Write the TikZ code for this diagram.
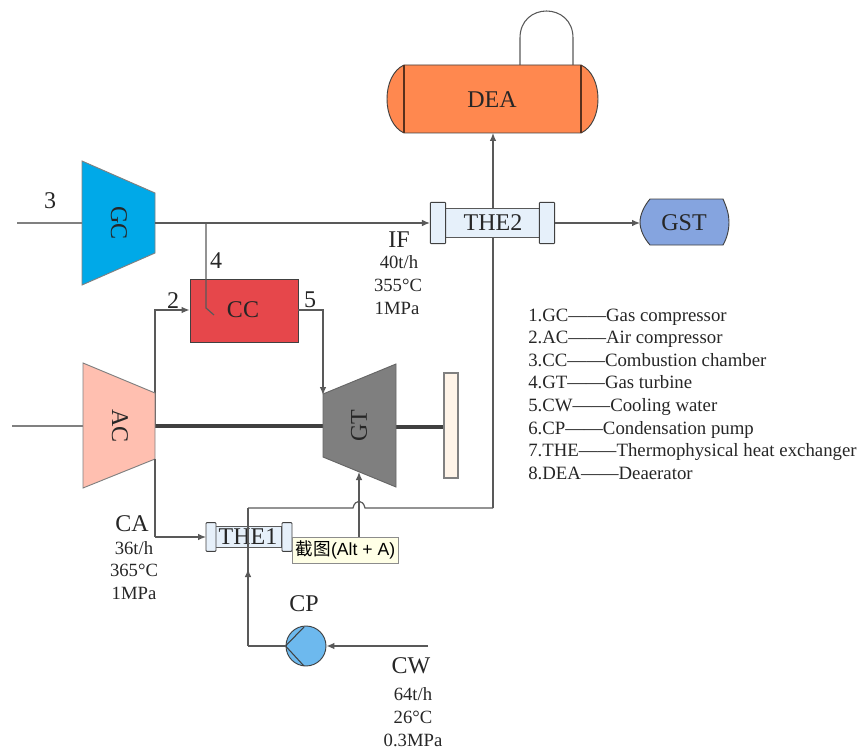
\documentclass[tikz,border=0pt]{standalone}
\usepackage{fontspec}
\setmainfont{Liberation Serif}
\newfontfamily\cjkfont{Noto Sans CJK SC}
\newfontfamily\tipfont{Liberation Sans}
\usetikzlibrary{arrows.meta}
\definecolor{linec}{HTML}{595959}
\definecolor{edgec}{HTML}{404040}
\definecolor{gcc}{HTML}{00A9E8}
\definecolor{acc}{HTML}{FFBFB0}
\definecolor{gtc}{HTML}{7F7F7F}
\definecolor{ccc}{HTML}{E6474B}
\definecolor{deac}{HTML}{FF884F}
\definecolor{gstc}{HTML}{85A4DF}
\definecolor{thec}{HTML}{E6F0FA}
\definecolor{barc}{HTML}{FFF4E8}
\definecolor{pumpc}{HTML}{6DB9EE}
\definecolor{tipc}{HTML}{FFFFE6}
\definecolor{textc}{HTML}{262626}
\tikzset{
  x=0.75pt,y=-0.75pt,
  flow/.style={draw=linec,line width=0.9pt},
  flowa/.style={flow,-{Latex[length=6pt,width=5pt]}},
  shaft/.style={draw=edgec,line width=2.7pt},
  part/.style={draw=edgec,line width=0.7pt},
  capbox/.style={part,fill=thec,rounded corners=0.6pt,inner sep=0pt,minimum width=11.5pt,minimum height=31pt},
  bodybox/.style={draw=linec,line width=1.2pt,fill=thec,inner sep=0pt,minimum height=22pt},
  big/.style={font=\fontsize{18}{20}\selectfont,text=textc,inner sep=0pt},
  lab/.style={font=\fontsize{18}{20}\selectfont,text=textc,inner sep=0pt},
  data/.style={font=\fontsize{14}{16}\selectfont,text=textc,inner sep=0pt},
  legend/.style={font=\fontsize{14.1}{16}\selectfont,text=textc,inner sep=0pt,anchor=base west},
}
\begin{document}
\begin{tikzpicture}
\useasboundingbox (0,0) rectangle (861,749);
% named points
\coordinate (gcin) at (17,223);
\coordinate (gcout) at (155,223);
\coordinate (branch) at (206,223);
\coordinate (branchend) at (206,308);
\coordinate (branchtip) at (214,315);
\coordinate (acin) at (12,426);
\coordinate (acout) at (155,426);
\coordinate (actop) at (155,310);
\coordinate (acbot) at (155,537);
\coordinate (gtin) at (323,426);
\coordinate (gtout) at (396,427);
\coordinate (gttop) at (323,395);
\coordinate (ccturn) at (323,310);
\coordinate (gtbot) at (359,472);
\coordinate (cwin) at (428,646);
\coordinate (cpturn) at (248,646);
\coordinate (upL) at (248,508);
\coordinate (upR) at (493,508);
\coordinate (hopa) at (353,508);
\coordinate (hopb) at (365,508);

% loop above deaerator
\draw[draw=linec,line width=0.8pt] (520,65) -- (520,38) .. controls (520,2) and (573,2) .. (573,38) -- (573,65);

% long pipe behind the exchangers
\draw[flow] (upL) -- (hopa) .. controls (355,499) and (363,499) .. (hopb) -- (upR);
\draw[flowa] (upR) -- (493,133);
\draw[flowa] (359,538) -- (gtbot);

% deaerator
\draw[part,fill=deac] (404,65) -- (581,65) .. controls (592,70) and (598,84) .. (598,99) .. controls (598,114) and (592,128) .. (581,133) -- (404,133) .. controls (393,128) and (387,114) .. (387,99) .. controls (387,84) and (393,70) .. (404,65) -- cycle;
\draw[draw=black!65!deac,line width=1.1pt] (404,65) -- (404,133) (581,65) -- (581,133);
\node[big] (dea) at (492,100) {DEA};

% THE2
\node[bodybox,minimum width=72pt] (the2) at (493,223) {};
\node[capbox] (the2l) at (438,223) {};
\node[capbox] (the2r) at (547,223) {};
\node[big] at (493,223) {THE2};

% GST
\draw[part,fill=gstc] (650,199) -- (723,199) .. controls (727,208) and (729,215) .. (729,222) .. controls (729,230) and (727,238) .. (723,245) -- (650,245) .. controls (644,238) and (640,230) .. (640,222) .. controls (640,215) and (644,206) .. (650,199) -- cycle;
\node[big] (gst) at (684,223) {GST};
\draw[flowa] (the2r.east) -- (640,223);

% gas compressor
\draw[draw=gray,line width=0.9pt] (gcin) -- (82,223);
\draw[part,draw=gray,fill=gcc] (82,161) -- (155,193) -- (155,253) -- (82,285) -- cycle;
\node[big,rotate=-90] (gc) at (119,223) {GC};
\draw[flowa] (gcout) -- (the2l.west |- gcout);

% combustion chamber
\node[part,fill=ccc,inner sep=0pt,minimum width=81pt,minimum height=47.25pt] (cc) at (244,310.5) {};
\node[big] at (243,310) {CC};
\draw[flow] (branch) -- (branchend) -- (branchtip);
\draw[flowa] (acout) -- (actop) -- (cc.west |- actop);
\draw[flowa] (cc.east |- ccturn) -- (ccturn) -- (gttop);

% shafts
\draw[shaft] (acout) -- (gtin);
\draw[shaft] (gtout) -- (444,427);

% air compressor
\draw[draw=gray,line width=0.9pt] (acin) -- (83,426);
\draw[part,draw=gray,fill=acc] (83,363) -- (155,393) -- (155,459) -- (83,488) -- cycle;
\node[big,rotate=-90] (ac) at (120,426) {AC};

% gas turbine
\draw[part,draw=gray!80!black,fill=gtc] (323,394) -- (396,364) -- (396,487) -- (323,457) -- cycle;
\node[big,rotate=90] (gt) at (359,426) {GT};

% generator bar
\node[draw=gray,line width=0.8pt,fill=barc,inner sep=0pt,minimum width=10.5pt,minimum height=78.75pt] (bar) at (451,425.5) {};

% lower pipe
\draw[flow] (155,459) -- (acbot);
\draw[flowa] (acbot) -- (206,537);

% THE1
\node[bodybox,minimum width=51pt,minimum height=16pt] (the1) at (248,537) {};
\node[capbox,minimum width=7.5pt,minimum height=21.5pt] (the1l) at (211,537) {};
\node[capbox,minimum width=7.5pt,minimum height=21.5pt] (the1r) at (287,537) {};
\node[big] (the1t) at (248,537) {THE1};

% condensate line
\draw[flow] (upL) -- (cpturn);
\draw[flowa] (cpturn |- 0,600) -- (248,569);
\node[draw=edgec,line width=0.7pt,fill=pumpc,circle,inner sep=0pt,minimum size=30pt] (cp) at (306,646) {};
\draw[draw=edgec,line width=0.8pt] (cp.west) -- (304,627);
\draw[draw=edgec,line width=0.8pt] (cp.west) -- (304,666);
\draw[flow] (cp.west) -- (cpturn);
\draw[flowa] (cwin) -- (cp.east);

% tooltip
\node[draw=black!45,line width=0.7pt,fill=tipc,inner sep=0pt,minimum width=79pt,minimum height=19.5pt,text=black,font=\fontsize{13.2}{15}\selectfont] (tip) at (345.5,550) {{\cjkfont 截图}{\tipfont (Alt + A)}};

% labels
\node[lab] (l3) at (50,201) {3};
\node[lab] (l4) at (216,261) {4};
\node[lab] (l2) at (173,301) {2};
\node[lab] (l5) at (310,300) {5};
\node[lab] (lif) at (399,240) {IF};
\node[data] (if1) at (399,262) {40t/h};
\node[data] (if2) at (398,285) {355°C};
\node[data] (if3) at (397,308) {1MPa};
\node[lab] (lca) at (132,524) {CA};
\node[data] (ca1) at (134,548) {36t/h};
\node[data] (ca2) at (134,570) {365°C};
\node[data] (ca3) at (134,593) {1MPa};
\node[lab] (lcp) at (304,604) {CP};
\node[lab] (lcw) at (411,666) {CW};
\node[data] (cw1) at (413,694) {64t/h};
\node[data] (cw2) at (413,717) {26°C};
\node[data] (cw3) at (413,740) {0.3MPa};

% legend
\node[legend] (k1) at (528,321) {1.GC——Gas compressor};
\node[legend] (k2) at (528,343) {2.AC——Air compressor};
\node[legend] (k3) at (528,366) {3.CC——Combustion chamber};
\node[legend] (k4) at (528,388) {4.GT——Gas turbine};
\node[legend] (k5) at (528,411) {5.CW——Cooling water};
\node[legend] (k6) at (528,434) {6.CP——Condensation pump};
\node[legend] (k7) at (528,456) {7.THE——Thermophysical heat exchanger};
\node[legend] (k8) at (528,479) {8.DEA——Deaerator};
\end{tikzpicture}
\end{document}
